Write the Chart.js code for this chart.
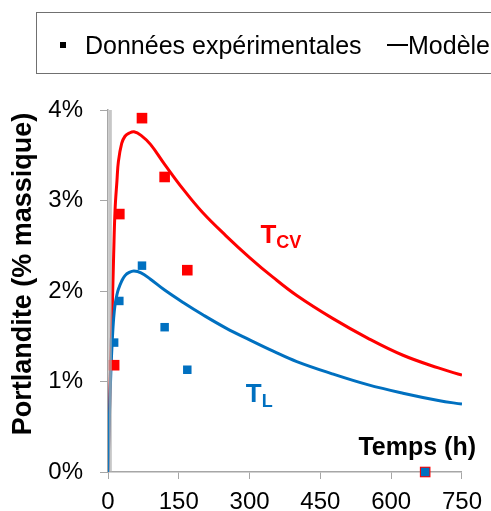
<!DOCTYPE html>
<html>
<head>
<meta charset="utf-8">
<title>Portlandite</title>
<script src="https://cdn.jsdelivr.net/npm/chart.js@4.4.1/dist/chart.umd.min.js"></script>
<style>
  html, body { margin: 0; padding: 0; background: #fff; }
</style>
</head>
<body>
<canvas id="chart" width="491" height="511"></canvas>
<script>
// mesures (temps en h, portlandite en % massique)
let tempsExp = [13, 24, 72, 120, 168, 672];
let tcvExp = [1.18, 2.85, 3.91, 3.26, 2.23, 0];
let tlExp = [1.43, 1.89, 2.28, 1.60, 1.13, 0];

// courbes du modèle
let tempsModele = [0, 3, 6, 9, 12, 15, 19, 22, 29, 36, 45, 55, 70, 90, 120, 160, 200, 250, 300, 350, 400, 475, 550, 625, 700, 750];
let tcvModele = [0, 0.65, 1.25, 1.8, 2.4, 2.9, 3.22, 3.43, 3.63, 3.71, 3.745, 3.76, 3.72, 3.62, 3.40, 3.12, 2.87, 2.61, 2.37, 2.15, 1.95, 1.70, 1.48, 1.29, 1.15, 1.07];
let tlModele = [0, 0.6, 1.1, 1.45, 1.7, 1.85, 1.96, 2.02, 2.11, 2.17, 2.205, 2.22, 2.20, 2.13, 2.01, 1.87, 1.74, 1.59, 1.46, 1.335, 1.22, 1.085, 0.965, 0.87, 0.79, 0.75];

// trait vertical gris près de l'origine
let tempsTrait = [5, 5];
let valeursTrait = [0, 4];

let xTicks = [0, 150, 300, 450, 600, 750];
let yTicks = [0, 1, 2, 3, 4];

let rouge = '#ff0000';
let bleu = '#0070c0';
let gris = '#a6a6a6';
let police = '"Liberation Sans", Arial, sans-serif';

function points(xs, ys) {
    return xs.map((x, i) => ({ x: x, y: ys[i] }));
}

// textes dessinés par-dessus le graphe : légende, titres, étiquettes des courbes
let textes = {
    id: 'textes',
    afterDraw(chart) {
        let ctx = chart.ctx;
        let sx = chart.scales.x;
        let sy = chart.scales.y;
        ctx.save();

        // légende
        ctx.strokeStyle = '#707070';
        ctx.lineWidth = 1;
        ctx.strokeRect(36.5, 12.5, 480, 61);
        ctx.fillStyle = '#000';
        ctx.fillRect(60, 42, 6, 6);
        ctx.font = '25px ' + police;
        ctx.textBaseline = 'alphabetic';
        ctx.textAlign = 'left';
        ctx.fillText('Données expérimentales', 85, 54);
        ctx.strokeStyle = '#000';
        ctx.lineWidth = 2;
        ctx.beginPath();
        ctx.moveTo(387, 45);
        ctx.lineTo(408, 45);
        ctx.stroke();
        ctx.fillText('Modèle', 408, 54);

        // titre de l'axe vertical
        ctx.save();
        ctx.translate(31, 274);
        ctx.rotate(-Math.PI / 2);
        ctx.textAlign = 'center';
        ctx.font = 'bold 27px ' + police;
        ctx.fillText('Portlandite (% massique)', 0, 0);
        ctx.restore();

        // titre de l'axe horizontal
        ctx.font = 'bold 25px ' + police;
        ctx.textAlign = 'right';
        ctx.fillText('Temps (h)', 476, 455);

        // T_CV
        ctx.textAlign = 'left';
        ctx.fillStyle = rouge;
        let x0 = sx.getPixelForValue(323);
        let y0 = sy.getPixelForValue(2.53);
        ctx.font = 'bold 26px ' + police;
        ctx.fillText('T', x0, y0);
        let w = ctx.measureText('T').width;
        ctx.font = 'bold 18px ' + police;
        ctx.fillText('CV', x0 + w, y0 + 5);

        // T_L
        ctx.fillStyle = bleu;
        x0 = sx.getPixelForValue(292);
        y0 = sy.getPixelForValue(0.77);
        ctx.font = 'bold 26px ' + police;
        ctx.fillText('T', x0, y0);
        w = ctx.measureText('T').width;
        ctx.font = 'bold 18px ' + police;
        ctx.fillText('L', x0 + w, y0 + 5);

        ctx.restore();
    }
};

let chart = new Chart(document.getElementById('chart'), {
    type: 'scatter',
    data: {
        datasets: [
            {
                label: 'trait',
                data: points(tempsTrait, valeursTrait),
                showLine: true,
                borderColor: 'rgba(175,175,175,0.7)',
                borderWidth: 3,
                pointRadius: 0,
                clip: false,
                order: 0
            },
            {
                label: 'TL mesures',
                data: points(tempsExp, tlExp),
                backgroundColor: bleu,
                borderColor: bleu,
                borderWidth: 0,
                pointStyle: 'rect',
                pointRadius: 6,
                clip: false,
                order: 1
            },
            {
                label: 'TCV mesures',
                data: points(tempsExp, tcvExp),
                backgroundColor: rouge,
                borderColor: rouge,
                borderWidth: 0,
                pointStyle: 'rect',
                pointRadius: 7.5,
                clip: false,
                order: 2
            },
            {
                label: 'TL modèle',
                data: points(tempsModele, tlModele),
                showLine: true,
                borderColor: bleu,
                borderWidth: 3,
                pointRadius: 0,
                tension: 0.4,
                order: 3
            },
            {
                label: 'TCV modèle',
                data: points(tempsModele, tcvModele),
                showLine: true,
                borderColor: rouge,
                borderWidth: 3,
                pointRadius: 0,
                tension: 0.4,
                order: 4
            }
        ]
    },
    options: {
        responsive: false,
        animation: false,
        devicePixelRatio: 1,
        layout: { padding: { top: 110, right: 23, left: 0, bottom: 0 } },
        plugins: {
            legend: { display: false },
            tooltip: { enabled: false }
        },
        scales: {
            x: {
                type: 'linear',
                min: 0,
                max: 750,
                afterFit: (scale) => { scale.height = 39; },
                afterBuildTicks: (scale) => { scale.ticks = xTicks.map(v => ({ value: v })); },
                grid: { drawOnChartArea: false, drawTicks: true, tickLength: 7, color: gris },
                border: { display: true, color: gris, width: 1.5 },
                ticks: {
                    color: '#000',
                    padding: 9,
                    maxRotation: 0,
                    font: { family: police, size: 24 }
                }
            },
            y: {
                type: 'linear',
                min: 0,
                max: 4,
                afterFit: (scale) => { scale.width = 108; },
                afterBuildTicks: (scale) => { scale.ticks = yTicks.map(v => ({ value: v })); },
                grid: { drawOnChartArea: false, drawTicks: true, tickLength: 8, color: gris },
                border: { display: true, color: gris, width: 1.5 },
                ticks: {
                    color: '#000',
                    padding: 17,
                    font: { family: police, size: 24 },
                    callback: (v) => v + '%'
                }
            }
        }
    },
    plugins: [textes]
});
</script>
</body>
</html>
